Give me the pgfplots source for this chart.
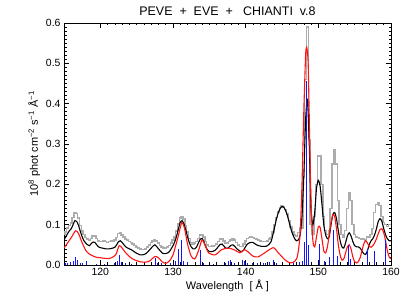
\documentclass[border=0pt]{standalone}
\usepackage{fontspec}
\setmainfont{Liberation Sans}
\usepackage{pgfplots}
\pgfplotsset{compat=1.18}
\definecolor{grayline}{RGB}{172,172,172}
\definecolor{blueline}{RGB}{20,20,255}
\definecolor{redline}{RGB}{255,20,20}

\begin{document}
\begin{tikzpicture}
\begin{axis}[
  scale only axis, width=327bp, height=242bp,
  xmin=115, xmax=160, ymin=0, ymax=0.6,
  xtick={120,130,140,150,160},
  ytick={0,0.1,0.2,0.3,0.4,0.5,0.6},
  minor x tick num=9, minor y tick num=9,
  tick align=inside, major tick length=5bp, minor tick length=2.5bp,
  tick style={black, line width=0.6bp},
  yticklabel style={/pgf/number format/.cd, fixed, fixed zerofill, precision=1},
  xticklabel style={/pgf/number format/.cd, fixed, precision=0},
  /pgf/number format/assume math mode=true,
  ticklabel style={font=\fontsize{10.5}{12}\selectfont},
  title={PEVE\ \ +\ \ EVE\ \ +\ \ \ CHIANTI\ \ v.8},
  title style={font=\fontsize{12.5}{14}\selectfont, yshift=-2bp},
  xlabel={Wavelength\ \ [\ Å\ ]},
  xlabel style={font=\fontsize{11}{13}\selectfont, yshift=3bp},
  ylabel={10\textsuperscript{8} phot cm\textsuperscript{−2} s\textsuperscript{−1} Å\textsuperscript{−1}},
  ylabel style={font=\fontsize{11}{13}\selectfont, yshift=-1bp},
  axis line style={line width=0.8bp},
  clip=true,
]
% gray (stepped)
\addplot[grayline, line width=1.5bp, const plot mark mid] coordinates {
(115.00,0.075)(115.25,0.082)(115.50,0.092)(115.75,0.098)(116.00,0.104)(116.25,0.118)
(116.50,0.130)(116.75,0.128)(117.00,0.116)(117.25,0.098)(117.50,0.084)(117.75,0.076)
(118.00,0.068)(118.25,0.064)(118.50,0.062)(118.75,0.066)(119.00,0.072)(119.25,0.072)
(119.50,0.066)(119.75,0.060)(120.00,0.058)(120.25,0.058)(120.50,0.060)(120.75,0.058)
(121.00,0.056)(121.25,0.058)(121.50,0.060)(121.75,0.058)(122.00,0.062)(122.25,0.068)
(122.50,0.078)(122.75,0.080)(123.00,0.074)(123.25,0.070)(123.50,0.064)(123.75,0.062)
(124.00,0.058)(124.25,0.056)(124.50,0.052)(124.75,0.048)(125.00,0.044)(125.25,0.042)
(125.50,0.040)(125.75,0.038)(126.00,0.038)(126.25,0.040)(126.50,0.044)(126.75,0.050)
(127.00,0.056)(127.25,0.060)(127.50,0.062)(127.75,0.060)(128.00,0.054)(128.25,0.048)
(128.50,0.044)(128.75,0.042)(129.00,0.042)(129.25,0.044)(129.50,0.048)(129.75,0.054)
(130.00,0.062)(130.25,0.070)(130.50,0.084)(130.75,0.102)(131.00,0.116)(131.25,0.120)
(131.50,0.114)(131.75,0.098)(132.00,0.082)(132.25,0.066)(132.50,0.056)(132.75,0.052)
(133.00,0.054)(133.25,0.058)(133.50,0.066)(133.75,0.074)(134.00,0.076)(134.25,0.070)
(134.50,0.058)(134.75,0.050)(135.00,0.046)(135.25,0.046)(135.50,0.047)(135.75,0.048)
(136.00,0.052)(136.25,0.058)(136.50,0.064)(136.75,0.066)(137.00,0.060)(137.25,0.054)
(137.50,0.054)(137.75,0.058)(138.00,0.062)(138.25,0.066)(138.50,0.062)(138.75,0.056)
(139.00,0.050)(139.25,0.046)(139.50,0.046)(139.75,0.052)(140.00,0.060)(140.25,0.066)
(140.50,0.068)(140.75,0.070)(141.00,0.068)(141.25,0.066)(141.50,0.064)(141.75,0.062)
(142.00,0.060)(142.25,0.058)(142.50,0.058)(142.75,0.058)(143.00,0.060)(143.25,0.064)
(143.50,0.068)(143.75,0.082)(144.00,0.100)(144.25,0.118)(144.50,0.132)(144.75,0.142)
(145.00,0.146)(145.25,0.144)(145.50,0.138)(145.75,0.126)(146.00,0.110)(146.25,0.094)
(146.50,0.082)(146.75,0.074)(147.00,0.072)(147.25,0.080)
(147.5,0.092)(147.75,0.090)(148.0,0.220)(148.25,0.460)(148.5,0.590)(148.75,0.310)
(149.0,0.100)(149.25,0.075)(149.5,0.120)(149.75,0.200)(150.0,0.270)(150.25,0.270)
(150.5,0.200)(150.75,0.120)(151.0,0.085)(151.25,0.075)(151.5,0.085)(151.75,0.140)
(152.0,0.250)(152.25,0.285)(152.5,0.250)(152.75,0.160)(153.0,0.100)(153.25,0.075)
(153.5,0.070)(153.75,0.085)(154.0,0.140)(154.25,0.180)(154.5,0.160)(154.75,0.100)
(155.0,0.075)(155.25,0.070)(155.5,0.068)(155.75,0.066)(156.0,0.065)(156.25,0.064)
(156.5,0.062)(156.75,0.070)(157.0,0.068)(157.25,0.075)(157.5,0.090)(157.75,0.130)
(158.0,0.150)(158.25,0.155)(158.5,0.148)(158.75,0.120)(159.0,0.105)(159.25,0.100)
(159.5,0.095)(159.75,0.100)(160.0,0.100)
};
% black
\addplot[black, line width=1.1bp, smooth, tension=0.4] coordinates {
(115.00,0.062)(115.25,0.070)(115.50,0.078)(115.75,0.085)(116.00,0.090)(116.25,0.100)
(116.50,0.110)(116.75,0.108)(117.00,0.098)(117.25,0.083)(117.50,0.070)(117.75,0.060)
(118.00,0.054)(118.25,0.050)(118.50,0.048)(118.75,0.053)(119.00,0.057)(119.25,0.056)
(119.50,0.050)(119.75,0.045)(120.00,0.043)(120.25,0.042)(120.50,0.041)(120.75,0.040)
(121.00,0.040)(121.25,0.040)(121.50,0.041)(121.75,0.042)(122.00,0.044)(122.25,0.050)
(122.50,0.058)(122.75,0.060)(123.00,0.056)(123.25,0.050)(123.50,0.045)(123.75,0.042)
(124.00,0.040)(124.25,0.038)(124.50,0.035)(124.75,0.032)(125.00,0.029)(125.25,0.027)
(125.50,0.025)(125.75,0.025)(126.00,0.026)(126.25,0.028)(126.50,0.032)(126.75,0.037)
(127.00,0.042)(127.25,0.047)(127.50,0.050)(127.75,0.046)(128.00,0.040)(128.25,0.035)
(128.50,0.030)(128.75,0.028)(129.00,0.028)(129.25,0.030)(129.50,0.033)(129.75,0.040)
(130.00,0.048)(130.25,0.058)(130.50,0.072)(130.75,0.090)(131.00,0.106)(131.25,0.110)
(131.50,0.102)(131.75,0.088)(132.00,0.070)(132.25,0.055)(132.50,0.045)(132.75,0.040)
(133.00,0.040)(133.25,0.045)(133.50,0.055)(133.75,0.064)(134.00,0.066)(134.25,0.058)
(134.50,0.046)(134.75,0.037)(135.00,0.033)(135.25,0.033)(135.50,0.034)(135.75,0.036)
(136.00,0.040)(136.25,0.046)(136.50,0.051)(136.75,0.052)(137.00,0.047)(137.25,0.042)
(137.50,0.041)(137.75,0.045)(138.00,0.049)(138.25,0.050)(138.50,0.046)(138.75,0.041)
(139.00,0.037)(139.25,0.034)(139.50,0.033)(139.75,0.038)(140.00,0.046)(140.25,0.052)
(140.50,0.055)(140.75,0.056)(141.00,0.056)(141.25,0.053)(141.50,0.050)(141.75,0.048)
(142.00,0.047)(142.25,0.046)(142.50,0.046)(142.75,0.046)(143.00,0.048)(143.25,0.052)
(143.50,0.058)(143.75,0.075)(144.00,0.095)(144.25,0.115)(144.50,0.130)(144.75,0.140)
(145.00,0.145)(145.25,0.143)(145.50,0.135)(145.75,0.122)(146.00,0.105)(146.25,0.088)
(146.50,0.075)(146.75,0.065)
(147.0,0.060)(147.25,0.062)(147.5,0.075)(147.75,0.120)(148.0,0.220)(148.25,0.360)
(148.5,0.410)(148.75,0.300)(149.0,0.140)(149.25,0.100)(149.5,0.130)(149.75,0.190)
(150.0,0.210)(150.25,0.195)(150.5,0.150)(150.75,0.100)(151.0,0.075)(151.25,0.065)
(151.5,0.070)(151.75,0.100)(152.0,0.125)(152.25,0.130)(152.5,0.115)(152.75,0.085)
(153.0,0.060)(153.25,0.045)(153.5,0.042)(153.75,0.055)(154.0,0.072)(154.25,0.080)
(154.5,0.072)(154.75,0.058)(155.0,0.048)(155.25,0.045)(155.5,0.045)(155.75,0.042)
(156.0,0.035)(156.25,0.028)(156.5,0.026)(156.75,0.035)(157.0,0.050)(157.25,0.060)
(157.5,0.065)(157.75,0.075)(158.0,0.090)(158.25,0.108)(158.5,0.115)(158.75,0.108)
(159.0,0.090)(159.25,0.075)(159.5,0.065)(159.75,0.060)(160.0,0.060)
};
% red
\addplot[redline, line width=1.1bp, smooth, tension=0.4] coordinates {
(115,0.042)(115.5,0.055)(116,0.068)(116.6,0.085)(117,0.078)(117.5,0.055)
(118,0.036)(118.5,0.027)(119.3,0.020)(120,0.018)(121.2,0.016)(122.1,0.025)
(122.6,0.048)(123,0.042)(123.5,0.030)(124.2,0.018)(124.8,0.012)(125.5,0.008)
(126.2,0.007)(126.8,0.010)(127.5,0.021)(128,0.018)(128.5,0.008)(129,0.004)
(129.5,0.010)(130,0.025)(130.7,0.070)(131.2,0.105)(131.6,0.090)(132,0.052)
(132.5,0.022)(133,0.015)(133.5,0.035)(134,0.062)(134.5,0.045)(134.9,0.030)
(135.8,0.025)(136.7,0.038)(137.6,0.042)(138.5,0.037)(139.2,0.030)(139.8,0.038)
(140.3,0.033)(141,0.022)(141.7,0.020)(142.6,0.030)(143.8,0.043)(144.5,0.030)
(145.4,0.013)(146,0.006)(146.5,0.006)
(147.0,0.015)(147.25,0.035)(147.5,0.080)(147.75,0.200)(148.0,0.380)(148.25,0.520)
(148.4,0.540)(148.6,0.500)(148.8,0.320)(149.0,0.150)(149.25,0.060)(149.5,0.045)
(149.75,0.070)(150.0,0.095)(150.25,0.093)(150.5,0.065)(150.75,0.035)(151.0,0.030)
(151.25,0.045)(151.5,0.075)(151.75,0.105)(152.0,0.125)(152.25,0.120)(152.5,0.090)
(152.75,0.050)(153.0,0.025)(153.25,0.012)(153.5,0.015)(153.75,0.030)(154.0,0.045)
(154.25,0.050)(154.5,0.040)(154.75,0.020)(155.0,0.008)(155.25,0.005)(155.5,0.008)
(155.75,0.018)(156.0,0.035)(156.25,0.052)(156.5,0.060)(156.75,0.055)(157.0,0.046)
(157.25,0.044)(157.5,0.048)(157.75,0.055)(158.0,0.065)(158.25,0.078)(158.5,0.088)
(158.75,0.090)(159.0,0.080)(159.25,0.060)(159.5,0.035)(159.75,0.020)(160.0,0.015)
};
% blue lines
\addplot[blueline, line width=0.9bp, ycomb] coordinates {
(115.2,0.005)(115.5,0.006)(115.9,0.008)(116.3,0.010)(116.6,0.020)(116.9,0.012)
(117.3,0.005)(117.6,0.004)(118.1,0.010)(119.4,0.003)(120.6,0.003)(121.9,0.004)
(122.4,0.010)(122.6,0.025)(122.9,0.008)(123.5,0.004)(124.3,0.003)(127.6,0.017)
(127.9,0.005)(128.4,0.004)(129.6,0.006)(130.3,0.010)(130.8,0.040)(131.2,0.062)
(131.5,0.010)(132.0,0.008)(133.8,0.037)(134.2,0.005)(135.5,0.003)(137.2,0.005)
(137.6,0.010)(137.9,0.012)(138.4,0.006)(139.6,0.012)(139.9,0.010)(140.3,0.005)
(141.0,0.004)(141.6,0.005)(142.4,0.006)(142.7,0.004)(143.3,0.008)(143.8,0.013)
(144.2,0.004)(146.6,0.005)(147.4,0.008)(147.8,0.010)(148.1,0.058)(148.4,0.456)
(148.6,0.050)(150.1,0.052)(150.9,0.010)(151.5,0.020)(152.1,0.087)(152.6,0.022)
(154.1,0.050)(154.4,0.015)(156.8,0.040)(157.7,0.035)(159.2,0.062)
};
\end{axis}
\pgfresetboundingbox
\path[use as bounding box] ([shift={(-64bp,-42bp)}]current axis.south west) rectangle ([shift={(18bp,23bp)}]current axis.north east);
\end{tikzpicture}
\end{document}
